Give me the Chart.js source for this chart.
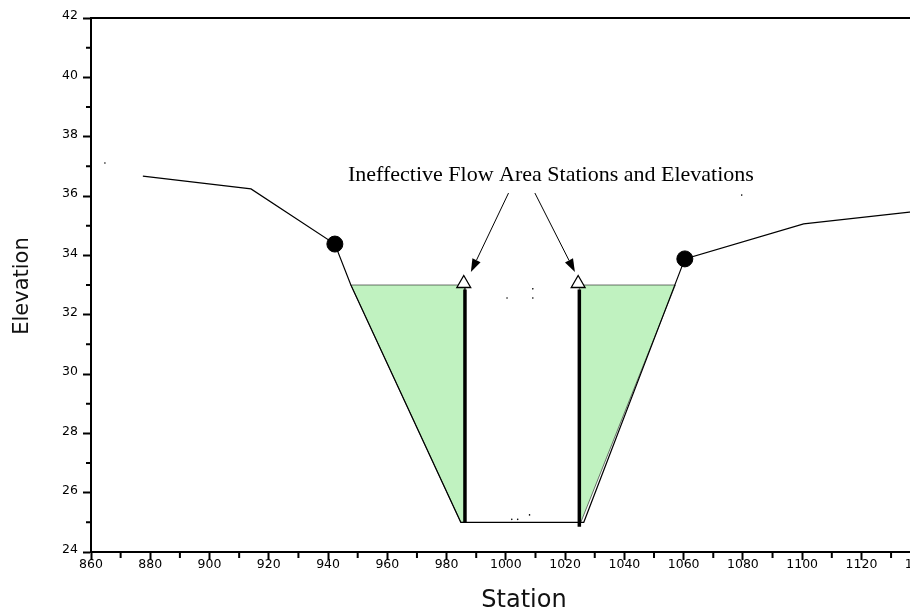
<!DOCTYPE html>
<html>
<head>
<meta charset="utf-8">
<script src="https://cdn.jsdelivr.net/npm/chart.js@4"></script>
<style>
  html, body { margin: 0; padding: 0; background: #fff; overflow: hidden; }
  #wrap { width: 930px; height: 614px; }
</style>
</head>
<body>
<div id="wrap"><canvas id="xsChart" width="930" height="614"></canvas></div>
<script>
// ground profile (station, elevation)
const groundStation = [877.5, 914, 942.3, 947.7, 984.8, 1026.3, 1060.4, 1100.5, 1140];
const groundElev = [36.67, 36.24, 34.38, 33.0, 25.0, 25.0, 33.88, 35.06, 35.5];

// main channel bank stations
const bankStation = [942.3, 1060.4];
const bankElev = [34.38, 33.88];

// ineffective flow areas (closed outlines)
const leftAreaStation = [947.7, 986.2, 986.2, 984.8, 947.7];
const leftAreaElev = [33, 33, 25, 25, 33];
const rightAreaStation = [1024.8, 1057.2, 1025.3, 1024.8, 1024.8];
const rightAreaElev = [33, 33, 25, 25, 33];

// ineffective flow blocks and their markers
const leftBlockStation = [986.2, 986.2];
const leftBlockElev = [25, 32.85];
const rightBlockStation = [1024.8, 1024.8];
const rightBlockElev = [24.85, 32.85];
const markerStation = [985.8, 1024.4];
const markerElev = [33.05, 33.05];

// stray survey specks
const strayStation = [864.7, 1079.6, 1000.4, 1009.1, 1009.1, 1002, 1004, 1008];
const strayElev = [37.11, 36.03, 32.56, 32.87, 32.56, 25.1, 25.1, 25.25];

// annotation
const noteText = 'Ineffective Flow Area Stations and Elevations';
const noteAt = [1015.2, 36.7];
const arrowFrom = [[1000.9, 36.1], [1009.8, 36.1]];
const arrowTo = [[988.2, 33.44], [1023.3, 33.44]];

const xTitle = 'Station';
const yTitle = 'Elevation';

const GREEN = 'rgb(192, 242, 192)';
const TICK_FONT = { family: 'DejaVu Sans', size: 12.5 };

function pts(xs, ys) {
  return xs.map((x, i) => ({ x, y: ys[i] }));
}

const decor = {
  id: 'decor',
  afterDraw(chart) {
    const ctx = chart.ctx;
    const area = chart.chartArea;
    const x = chart.scales.x;
    const y = chart.scales.y;
    ctx.save();
    ctx.strokeStyle = '#000';
    ctx.fillStyle = '#000';

    // frame top and right
    ctx.lineWidth = 2;
    ctx.beginPath();
    ctx.moveTo(area.left, area.top);
    ctx.lineTo(area.right, area.top);
    ctx.lineTo(area.right, area.bottom);
    ctx.stroke();

    // minor ticks
    ctx.lineWidth = 2;
    ctx.beginPath();
    for (let v = 25; v < 42; v += 2) {
      const py = y.getPixelForValue(v);
      ctx.moveTo(area.left, py);
      ctx.lineTo(area.left - 5, py);
    }
    for (let v = 870; v < 1140; v += 20) {
      const px = x.getPixelForValue(v);
      ctx.moveTo(px, area.bottom);
      ctx.lineTo(px, area.bottom + 6);
    }
    ctx.stroke();

    // annotation
    ctx.font = '22px "Liberation Serif"';
    ctx.textAlign = 'center';
    ctx.textBaseline = 'middle';
    ctx.fillText(noteText, x.getPixelForValue(noteAt[0]), y.getPixelForValue(noteAt[1]));

    ctx.lineWidth = 1;
    arrowFrom.forEach((f, i) => {
      const x0 = x.getPixelForValue(f[0]), y0 = y.getPixelForValue(f[1]);
      const x1 = x.getPixelForValue(arrowTo[i][0]), y1 = y.getPixelForValue(arrowTo[i][1]);
      const a = Math.atan2(y1 - y0, x1 - x0);
      const len = 13, half = 4.5;
      const bx = x1 - len * Math.cos(a), by = y1 - len * Math.sin(a);
      ctx.beginPath();
      ctx.moveTo(x0, y0);
      ctx.lineTo(bx, by);
      ctx.stroke();
      ctx.beginPath();
      ctx.moveTo(x1, y1);
      ctx.lineTo(bx + half * Math.sin(a), by - half * Math.cos(a));
      ctx.lineTo(bx - half * Math.sin(a), by + half * Math.cos(a));
      ctx.closePath();
      ctx.fill();
    });

    // axis titles
    ctx.fillStyle = '#111';
    ctx.font = '24px "DejaVu Sans"';
    ctx.textAlign = 'center';
    ctx.textBaseline = 'middle';
    ctx.fillText(xTitle, area.left + 433, area.bottom + 49);
    ctx.save();
    ctx.translate(23, area.top + 268);
    ctx.rotate(-Math.PI / 2);
    ctx.font = '21px "DejaVu Sans"';
    ctx.fillText(yTitle, 0, 0);
    ctx.restore();

    ctx.restore();
  }
};

const data = {
  datasets: [
    {
      label: 'Bank Sta',
      data: pts(bankStation, bankElev),
      showLine: false,
      pointRadius: 8,
      pointBackgroundColor: '#000',
      pointBorderColor: '#000',
      order: 1
    },
    {
      label: 'Ineff markers',
      data: pts(markerStation, markerElev),
      showLine: false,
      pointStyle: 'triangle',
      pointRadius: 8,
      pointBorderWidth: 1.3,
      pointBackgroundColor: '#fff',
      pointBorderColor: '#000',
      order: 2
    },
    {
      label: 'Left block',
      data: pts(leftBlockStation, leftBlockElev),
      showLine: true,
      borderColor: '#000',
      borderWidth: 3.5,
      pointRadius: 0,
      order: 3
    },
    {
      label: 'Right block',
      data: pts(rightBlockStation, rightBlockElev),
      showLine: true,
      borderColor: '#000',
      borderWidth: 3.5,
      pointRadius: 0,
      order: 3
    },
    {
      label: 'Ground',
      data: pts(groundStation, groundElev),
      showLine: true,
      borderColor: '#000',
      borderWidth: 1.2,
      pointRadius: 0,
      order: 4
    },
    {
      label: 'Stray',
      data: pts(strayStation, strayElev),
      showLine: false,
      pointRadius: 0.8,
      pointBorderWidth: 0,
      pointBackgroundColor: '#000',
      order: 4
    },
    {
      label: 'Left ineffective',
      data: pts(leftAreaStation, leftAreaElev),
      showLine: true,
      fill: 'shape',
      backgroundColor: GREEN,
      borderColor: 'rgba(0,0,0,0.55)',
      borderWidth: 1,
      pointRadius: 0,
      order: 5
    },
    {
      label: 'Right ineffective',
      data: pts(rightAreaStation, rightAreaElev),
      showLine: true,
      fill: 'shape',
      backgroundColor: GREEN,
      borderColor: 'rgba(0,0,0,0.55)',
      borderWidth: 1,
      pointRadius: 0,
      order: 5
    }
  ]
};

const chartConfig = {
  type: 'scatter',
  data,
  plugins: [decor],
  options: {
    responsive: false,
    animation: false,
    layout: { padding: { top: 18, right: 9, left: 0, bottom: 0 } },
    plugins: { legend: { display: false }, tooltip: { enabled: false } },
    elements: { line: { tension: 0 } },
    scales: {
      x: {
        type: 'linear',
        min: 860,
        max: 1140,
        afterFit(scale) {
          scale.height = 62;
          scale.paddingLeft = 0;
          scale.paddingRight = 0;
        },
        ticks: {
          stepSize: 20,
          color: '#000',
          font: TICK_FONT,
          padding: -3,
          maxRotation: 0,
          autoSkip: false,
          callback: (v) => String(v)
        },
        grid: {
          drawOnChartArea: false,
          drawTicks: true,
          tickLength: 8,
          tickWidth: 2,
          tickColor: '#000'
        },
        border: { display: true, color: '#000', width: 2 }
      },
      y: {
        type: 'linear',
        min: 24,
        max: 42,
        afterFit(scale) {
          scale.width = 91;
          scale.paddingTop = 0;
          scale.paddingBottom = 0;
        },
        ticks: {
          stepSize: 2,
          color: '#000',
          font: TICK_FONT,
          padding: 5,
          labelOffset: -2,
          callback: (v) => String(v)
        },
        grid: {
          drawOnChartArea: false,
          drawTicks: true,
          tickLength: 8,
          tickWidth: 2,
          tickColor: '#000'
        },
        border: { display: true, color: '#000', width: 2 }
      }
    }
  }
};

let currentChart = new Chart(document.getElementById('xsChart'), chartConfig);
</script>
</body>
</html>
